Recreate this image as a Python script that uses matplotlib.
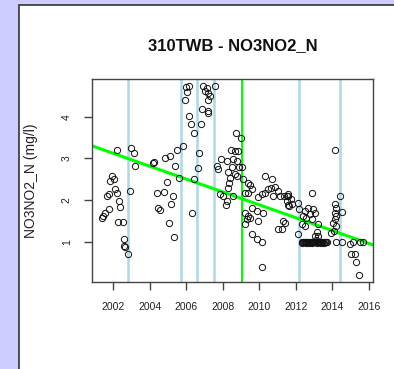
#!/usr/bin/env python

##### IMPORTS #####
import matplotlib
matplotlib.use("Agg")
import matplotlib.pyplot as plt
from matplotlib.patches import Rectangle

##### DATA #####
station = "310TWB"
parameter = "NO3NO2_N"
y_label = "NO3NO2_N (mg/l)"

# sample dates (decimal year) and concentrations (mg/l)
years = [
    2001.40, 2001.45, 2001.58, 2001.67, 2001.77, 2001.80, 2001.85, 2001.95, 2002.04, 2002.13,
    2002.22, 2002.22, 2002.27, 2002.31, 2002.40, 2002.55, 2002.62, 2002.62, 2002.67, 2002.82,
    2002.95, 2003.00, 2003.13, 2003.22,
    2004.17, 2004.22, 2004.40, 2004.46, 2004.58, 2004.80, 2004.86, 2004.95, 2005.08, 2005.13,
    2005.19, 2005.28, 2005.32, 2005.40, 2005.50, 2005.62, 2005.81, 2005.92, 2006.00, 2006.05,
    2006.14, 2006.14, 2006.26, 2006.32, 2006.41, 2006.41,
    2006.66, 2006.70, 2006.81, 2006.85, 2006.93, 2007.03, 2007.12, 2007.17, 2007.17, 2007.21,
    2007.21, 2007.30, 2007.57, 2007.67, 2007.72, 2007.85, 2007.90, 2008.03, 2008.16, 2008.21,
    2008.21, 2008.30, 2008.30, 2008.34, 2008.39, 2008.45, 2008.49, 2008.57, 2008.57, 2008.67,
    2008.67, 2008.72, 2008.76, 2008.76, 2008.81, 2008.89, 2008.99, 2009.03, 2009.12,
    2009.21, 2009.21, 2009.21, 2009.31, 2009.36, 2009.39, 2009.39, 2009.49, 2009.49, 2009.58,
    2009.58, 2009.58, 2009.85, 2009.85, 2009.94, 2009.94, 2010.13, 2010.13, 2010.13, 2010.21,
    2010.31, 2010.31, 2010.49, 2010.63, 2010.70, 2010.76, 2010.85, 2011.00, 2011.03, 2011.13,
    2011.25, 2011.31, 2011.36, 2011.40, 2011.49, 2011.49, 2011.58, 2011.58, 2011.58, 2011.62,
    2011.73, 2011.77,
    2012.13, 2012.13, 2012.16, 2012.31, 2012.31, 2012.36, 2012.40, 2012.40, 2012.45, 2012.49,
    2012.49, 2012.49, 2012.54, 2012.58, 2012.58, 2012.63, 2012.67, 2012.67, 2012.72, 2012.77,
    2012.77, 2012.81, 2012.86, 2012.86, 2012.86, 2012.90, 2012.95, 2012.95, 2013.00, 2013.04,
    2013.04, 2013.04, 2013.09, 2013.13, 2013.13, 2013.18, 2013.22, 2013.22, 2013.22, 2013.27,
    2013.31, 2013.36, 2013.40, 2013.45, 2013.49, 2013.54, 2013.58, 2013.63, 2013.68,
    2013.95, 2014.04, 2014.09, 2014.13, 2014.13, 2014.13, 2014.13, 2014.22, 2014.22, 2014.22,
    2014.22, 2014.40, 2014.50, 2014.50, 2014.95, 2015.04, 2015.13, 2015.22, 2015.31, 2015.44,
    2015.50, 2015.68,
]
values = [
    1.58, 1.62, 1.70, 2.10, 2.14, 1.78, 2.46, 2.59, 2.50, 2.26,
    2.18, 3.20, 1.48, 1.98, 1.83, 1.48, 1.07, 0.90, 0.86, 0.70,
    2.22, 3.24, 3.12, 2.82,
    2.88, 2.91, 2.18, 1.82, 1.76, 2.20, 3.02, 2.44, 1.44, 3.07,
    1.90, 2.10, 1.10, 2.82, 3.20, 2.54, 3.31, 4.40, 4.72, 4.59,
    4.73, 4.01, 3.82, 1.68, 3.62, 2.51,
    2.78, 3.12, 3.82, 4.19, 4.73, 4.61, 4.70, 4.41, 4.13, 4.58,
    4.10, 4.49, 4.73, 2.83, 2.74, 2.14, 2.99, 2.10, 1.87, 2.95,
    1.98, 2.67, 2.30, 2.40, 2.54, 3.20, 2.80, 2.98, 2.10, 3.18,
    2.62, 3.62, 2.94, 2.58, 3.18, 2.80, 3.50, 2.80, 2.51,
    1.70, 2.18, 1.42, 1.54, 1.62, 2.42, 2.16, 2.35, 1.58, 2.26,
    1.82, 1.18, 1.74, 1.06, 2.08, 1.50, 2.14, 0.98, 0.38, 1.70,
    2.18, 2.59, 2.26, 2.30, 2.51, 2.10, 2.31, 2.22, 1.30, 2.10,
    1.30, 1.50, 2.10, 1.46, 1.98, 2.10, 1.87, 2.14, 2.10, 1.86,
    2.02, 1.90,
    1.94, 1.18, 1.78, 1.42, 1.00, 0.97, 1.62, 1.00, 0.98, 1.74,
    1.38, 1.00, 0.96, 1.58, 1.00, 0.98, 1.82, 1.00, 0.97, 1.66,
    1.00, 0.98, 2.18, 1.54, 1.00, 0.97, 1.78, 1.00, 0.98, 1.70,
    1.14, 1.00, 1.05, 1.22, 1.00, 0.96, 1.42, 1.14, 1.00, 0.98,
    1.00, 0.97, 1.00, 0.98, 1.00, 0.96, 1.00, 0.98, 1.00,
    1.20, 1.46, 1.26, 3.20, 1.90, 1.70, 1.54, 1.82, 1.62, 1.38,
    1.00, 2.10, 1.71, 1.00, 0.95, 0.70, 0.98, 0.70, 0.51, 0.19,
    0.98, 0.99,
]

# dates of the vertical markers and the trend line
event_years = [2002.80, 2005.70, 2006.61, 2007.52, 2012.16, 2014.40]
break_year = 2009.05
trend_point = (2009.0, 2.04)
trend_slope = -0.155  # mg/l per year

x_ticks = [2002, 2004, 2006, 2008, 2010, 2012, 2014, 2016]
y_ticks = [1, 2, 3, 4]

##### PLOTS #####
plt.rcParams["font.family"] = ["Liberation Sans", "DejaVu Sans"]

fig = plt.figure(figsize=(3.94, 3.69), dpi=100, facecolor="#ccccff")
# white panel with a dark frame behind the plot
fig.patches.append(Rectangle((19 / 394, -0.1), 1.0, 1.1 - 5 / 369, transform=fig.transFigure,
                             facecolor="white", edgecolor="#333333", linewidth=1.2, zorder=-5))

ax = fig.add_axes([0.2335, 0.2358, 0.7132, 0.5501])
ax.set_facecolor("none")

for yr in event_years:
    ax.axvline(yr, color="#add8e6", linewidth=1.8, zorder=1)
ax.axvline(break_year, color="#00ff00", linewidth=1.5, zorder=1)

ax.plot(years, values, linestyle="none", marker="o", markersize=4.5, markerfacecolor="none",
        markeredgecolor="#111111", markeredgewidth=0.7, zorder=3)
ax.axline(trend_point, slope=trend_slope, color="#00ff00", linewidth=2.2, zorder=2)

ax.set_xlim(2000.85, 2016.22)
ax.set_ylim(0.03, 4.91)
ax.set_xticks(x_ticks)
ax.set_yticks(y_ticks)
ax.set_xticklabels([str(t) for t in x_ticks], fontsize=7.5, color="#222222")
ax.set_yticklabels([str(t) for t in y_ticks], fontsize=7.5, color="#222222", rotation=90, va="center")
ax.tick_params(direction="out", length=5.5, width=1, color="#444444", pad=9)

for side in ax.spines.values():
    side.set_color("#444444")
    side.set_linewidth(1)

ax.set_ylabel(y_label, fontsize=10, color="#222222")
ax.yaxis.set_label_coords(-0.192, 0.5)

fig.text(0.590, 0.876, f"{station} - {parameter}", ha="center", va="center",
         fontsize=12, fontweight="bold", color="#111111")

plt.savefig("out.png", dpi=100, facecolor=fig.get_facecolor())
